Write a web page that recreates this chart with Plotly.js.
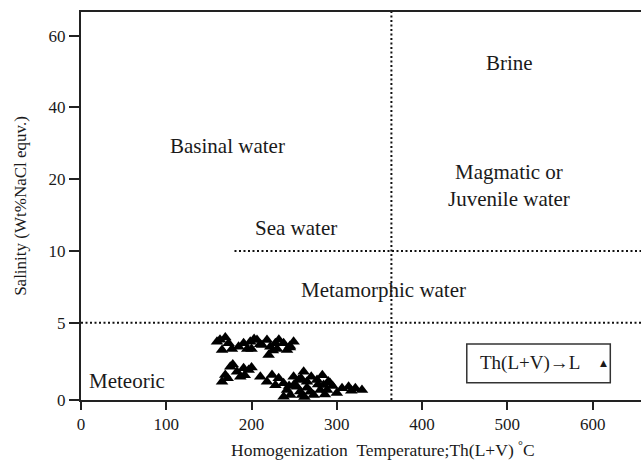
<!DOCTYPE html>
<html>
<head>
<meta charset="utf-8">
<script src="https://cdn.plot.ly/plotly-3.0.1.min.js"></script>
<style>html,body{margin:0;padding:0;background:#fff;}#chart{width:641px;height:466px;}</style>
</head>
<body>
<div id="chart"></div>
<script>
// Homogenization temperature (°C) of each inclusion
var temperature = [159.5,169.2,165.4,173.1,184.8,190.7,198.5,206.4,212.3,218.1,222.0,227.9,220.0,237.6,241.6,249.3,
  163,177,195,203,230,245,200,210,225,232,245,
  175.1,169.2,165.4,182.9,190.7,196.6,186.8,172,178,192,200,
  210.3,218.1,224.0,231.8,237.6,241.6,249.3,253.3,261.1,265.0,268.9,276.8,284.5,288.5,259.2,245.5,237.6,272.8,306.1,313.8,321.7,329.5,255.2,280.6,
  228,257,292,300,317,250,258,265,270,278,283,290,295,244,262,286];
// Salinity (wt% NaCl equiv.) of each inclusion
var salinity = [3.77,4.05,3.23,3.67,3.45,3.67,3.77,3.88,3.56,3.88,3.45,3.67,2.91,3.67,3.23,3.77,
  3.90,3.30,3.30,3.95,3.30,3.40,3.30,3.60,3.20,3.90,3.50,
  2.15,1.62,1.18,1.83,2.05,1.94,1.51,1.40,2.30,1.60,2.10,
  1.51,1.18,1.62,1.40,1.08,0.65,1.51,0.86,1.83,1.18,0.54,1.29,0.97,0.65,0.32,0.32,0.21,0.32,0.76,0.86,0.76,0.65,1.29,0.65,
  0.95,0.55,1.10,0.45,0.60,1.00,1.40,0.80,1.50,1.00,1.60,1.20,0.90,0.90,0.20,0.35];

var xTicks = [0,100,200,300,400,500,600];
var yTickLabels = [0,5,10,20,40,60];
// nonlinear salinity scale: equally spaced tick intervals (0-5 interval slightly wider)
var yBreaks = [0,5,10,20,40,60];
var yPos = [0,77.3,149,221,292.7,364.3];

function toU(s){
  for (var i=1;i<yBreaks.length;i++){
    if (s<=yBreaks[i]){
      var f=(s-yBreaks[i-1])/(yBreaks[i]-yBreaks[i-1]);
      return yPos[i-1]+f*(yPos[i]-yPos[i-1]);
    }
  }
  var n=yBreaks.length-1;
  return yPos[n]+(s-yBreaks[n])*(yPos[n]-yPos[n-1])/(yBreaks[n]-yBreaks[n-1]);
}

var FONT = '"Liberation Serif","Times New Roman",serif';
var trace = {
  x: temperature,
  y: salinity.map(toU),
  mode: 'markers',
  type: 'scatter',
  marker: {symbol:'triangle-up', size:11, color:'#000'},
  showlegend:false, hoverinfo:'skip'
};

var dot = '2px,2.5px';
var layout = {
  width:641, height:466,
  margin:{l:81, r:0, t:12, b:66},
  paper_bgcolor:'#fff', plot_bgcolor:'#fff',
  font:{family:FONT, color:'#1a1a1a', size:17},
  xaxis:{range:[0,656.7], tickvals:xTicks, ticktext:xTicks.map(String), ticks:'outside', ticklen:8, tickwidth:2,
    tickcolor:'#222', linecolor:'#222', linewidth:2, showline:true, mirror:true, showgrid:false, zeroline:false,
    tickfont:{size:17, family:FONT}},
  yaxis:{range:[0,388], tickvals:yTickLabels.map(toU), ticktext:yTickLabels.map(String), ticks:'outside', ticklen:10, tickwidth:2,
    tickcolor:'#222', linecolor:'#222', linewidth:2, showline:true, mirror:false, showgrid:false, zeroline:false,
    tickfont:{size:17, family:FONT},
    title:{text:'Salinity (Wt%NaCl equv.)', font:{size:17, family:FONT}, standoff:18}},
  shapes:[
    {type:'line', xref:'x', yref:'paper', x0:364, x1:364, y0:0, y1:1, line:{color:'#111', width:2, dash:dot}},
    {type:'line', xref:'paper', yref:'y', x0:0, x1:1, y0:toU(5), y1:toU(5), line:{color:'#111', width:2, dash:dot}},
    {type:'line', xref:'x', yref:'y', x0:180, x1:656.7, y0:toU(10), y1:toU(10), line:{color:'#111', width:2, dash:dot}},
    {type:'rect', xref:'x', yref:'y', x0:452.4, x1:620.7, y0:17.3, y1:56, line:{color:'#333', width:1.5}, fillcolor:'rgba(0,0,0,0)'}
  ],
  annotations:[
    {text:'Homogenization&nbsp;&nbsp;Temperature;Th(L+V) <sup>°</sup>C', xref:'paper', yref:'paper', x:0.54, y:-0.125,
      xanchor:'center', yanchor:'middle', showarrow:false, font:{size:17.5}},
    {text:'Brine', x:502, y:337, xref:'x', yref:'y', showarrow:false, font:{size:21}},
    {text:'Basinal water', x:171.6, y:254, xref:'x', yref:'y', showarrow:false, font:{size:21}},
    {text:'Magmatic or<br>Juvenile water', x:502, y:214.5, xref:'x', yref:'y', showarrow:false, font:{size:21}},
    {text:'Sea water', x:252.5, y:172, xref:'x', yref:'y', showarrow:false, font:{size:21}},
    {text:'Metamorphic water', x:354.5, y:110, xref:'x', yref:'y', showarrow:false, font:{size:21}},
    {text:'Meteoric', x:101, y:19, xref:'x', yref:'y', xanchor:'right', showarrow:false, font:{size:21}},
    {text:'Th(L+V)→L', x:466, y:36.7, xref:'x', yref:'y', xanchor:'left', showarrow:false, font:{size:19}},
    {text:'▲', x:612.5, y:37, xref:'x', yref:'y', showarrow:false, font:{size:9, family:'DejaVu Sans'}}
  ]
};
Plotly.newPlot('chart',[trace],layout,{staticPlot:true, displayModeBar:false});
</script>
</body>
</html>
